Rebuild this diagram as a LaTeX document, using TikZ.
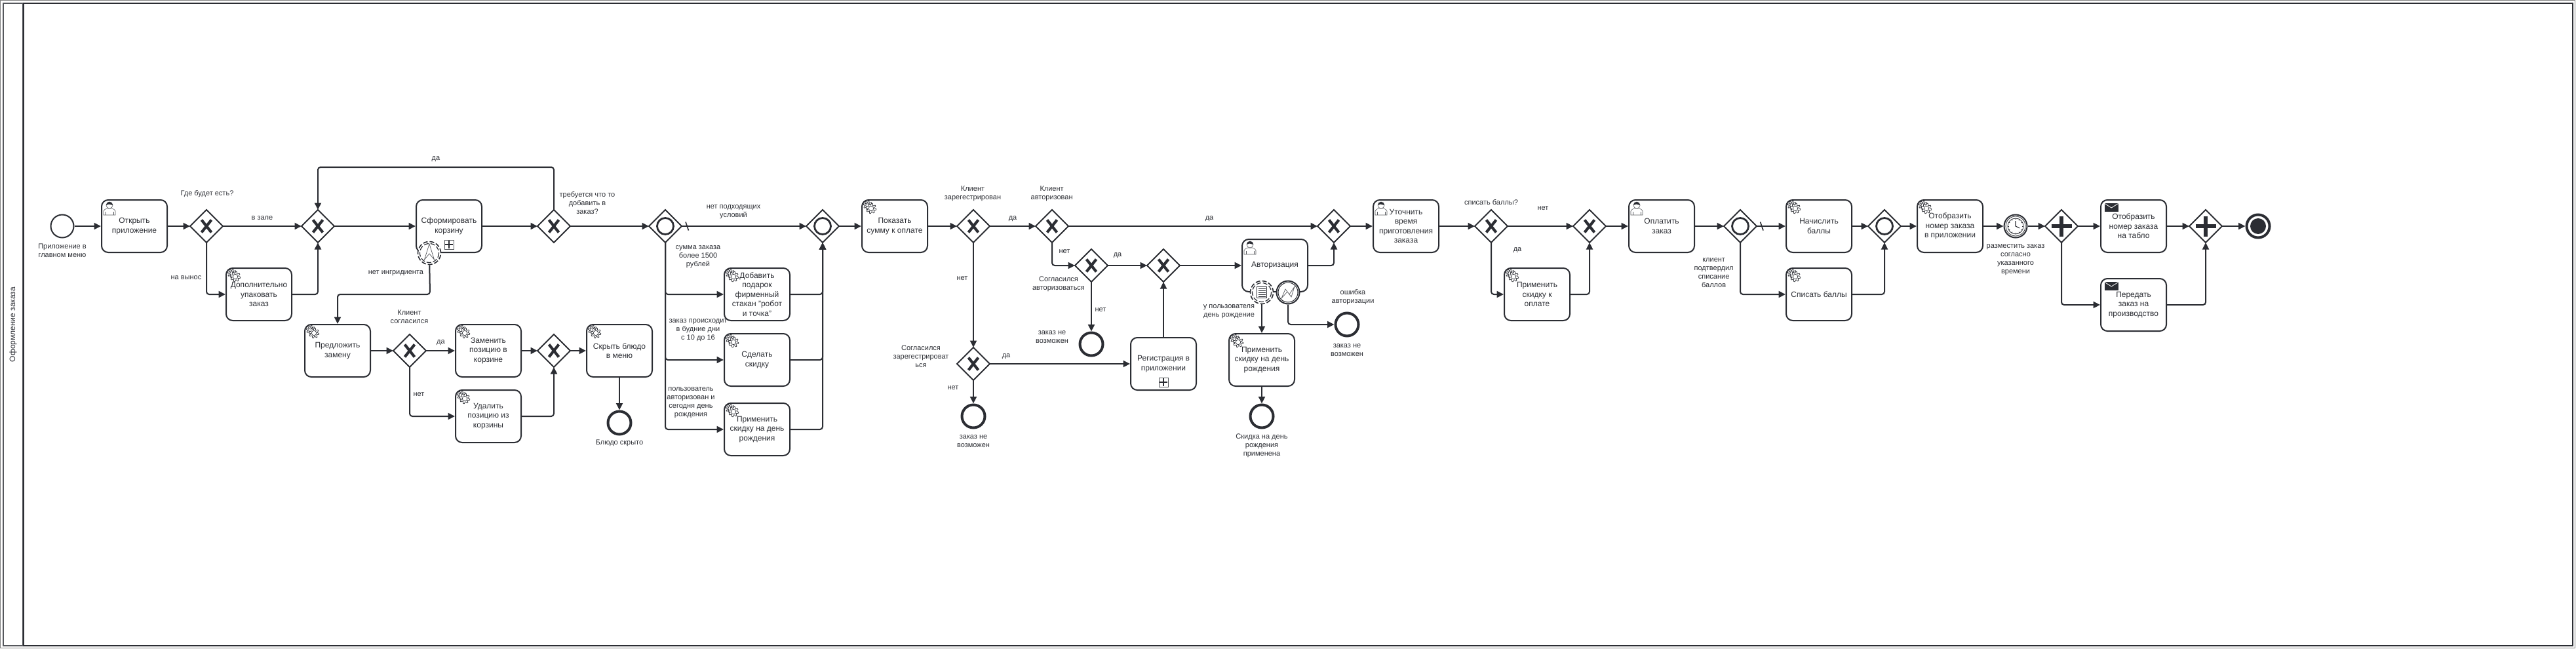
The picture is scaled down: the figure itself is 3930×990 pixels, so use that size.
\documentclass[tikz,border=0pt]{standalone}
\usepackage{fontspec}
\setmainfont{Liberation Sans}
\usetikzlibrary{arrows.meta,shapes.geometric,backgrounds}
\definecolor{inkcol}{HTML}{2B2D33}
\definecolor{framecol}{HTML}{808080}
\definecolor{titlecol}{HTML}{55575C}
\definecolor{iconcol}{HTML}{55575C}

\newcommand{\onegear}[3]{%
  \draw [fill=white] plot [domain=0:360, samples=65]
    ({#1+(#3-1+1.3*sign(sin(8*\x)))*cos(\x)}, {#2+(#3-1+1.3*sign(sin(8*\x)))*sin(\x)}) -- cycle;
  \draw (#1,#2) circle (0.5*#3);}
\newcommand{\gearicon}[1]{%
  \begin{scope}[shift={(#1.north west)}, draw=inkcol, line width=.7pt]
    \onegear{10}{9}{6.5}
    \onegear{15}{14}{7.5}
  \end{scope}}
\newcommand{\usericon}[1]{%
  \begin{scope}[shift={(#1.north west)}, draw=iconcol, line width=.6pt]
    \draw (4,24) -- (4,18) .. controls (4,16) and (7,15) .. (9,14) -- (17,14) .. controls (19,15) and (22,16) .. (22,18) -- (22,24) -- cycle;
    \draw (7,24) -- (7,19) (19,24) -- (19,19);
    \draw [fill=white] (13,9) circle (5);
    \fill [inkcol] (8,9) arc [start angle=180, end angle=360, radius=5] .. controls (10,7) and (14,7) .. cycle;
  \end{scope}}
\newcommand{\mailicon}[1]{%
  \begin{scope}[shift={(#1.north west)}]
    \fill [inkcol] (7,6) rectangle (27.5,19);
    \draw [white, line width=.8pt] (7,6.5) -- (17.2,13) -- (27.5,6.5);
  \end{scope}}
\newcommand{\plusicon}[1]{%
  \begin{scope}[shift={(#1.south)}]
    \draw [iconcol, line width=.8pt] (-7,-20) rectangle (7,-6);
    \draw [inkcol, line width=1.2pt] (0,-19) -- (0,-7) (-6,-13) -- (6,-13);
  \end{scope}}

\tikzset{
  inkline/.style={draw=inkcol, line width=2pt},
  flow/.style={->, inkline, rounded corners=4pt},
  tickline/.style={inkline, line width=1.6pt},
  lbl/.style={align=center, inner sep=0pt, text=inkcol, font=\fontsize{11}{13}\selectfont},
  task/.style={rectangle, inkline, rounded corners=10pt, minimum width=100pt, minimum height=80pt,
    inner sep=0pt, align=center, text=inkcol, font=\fontsize{12}{14.4}\selectfont},
  gateway/.style={diamond, aspect=1, inkline, minimum width=50pt, minimum height=50pt, inner sep=0pt, outer sep=0pt},
  xorgw/.style={gateway, path picture={
    \draw [inkcol, line width=4.2pt] (path picture bounding box.center) ++(-7.5,-9.5) -- ++(15,19);
    \draw [inkcol, line width=4.2pt] (path picture bounding box.center) ++(7.5,-9.5) -- ++(-15,19);}},
  orgw/.style={gateway, path picture={
    \draw [inkcol, line width=2.8pt] (path picture bounding box.center) circle (12.5);}},
  andgw/.style={gateway, path picture={
    \draw [inkcol, line width=5.5pt] (path picture bounding box.center) ++(-15.5,0) -- ++(31,0);
    \draw [inkcol, line width=5.5pt] (path picture bounding box.center) ++(0,-15.5) -- ++(0,31);}},
  startev/.style={circle, inkline, minimum size=35pt, inner sep=0pt},
  endev/.style={startev, line width=4pt},
  finalev/.style={endev, path picture={
    \fill [inkcol] (path picture bounding box.center) circle (12);}},
  timerev/.style={startev, path picture={
    \begin{scope}[shift={(path picture bounding box.center)}, draw=inkcol, line width=.8pt]
      \draw (0,0) circle (15);
      \draw (0,0) circle (12);
      \foreach \a in {0,30,...,330} \draw (\a:10) -- (\a:12);
      \draw [line width=1.1pt] (0,-8) -- (0,0) -- (6,3);
    \end{scope}}},
  dashev/.style={circle, draw=inkcol, fill=white, line width=1.6pt, dash pattern=on 7pt off 3pt, minimum size=35pt, inner sep=0pt},
  escev/.style={dashev, path picture={
    \begin{scope}[shift={(path picture bounding box.center)}, solid]
      \draw [inkcol, line width=1.2pt, dash pattern=on 7pt off 3pt] (0,0) circle (14.5);
      \draw [iconcol, line width=.7pt, solid] (0,-14) -- (-7.5,10) -- (0,1) -- (7.5,10) -- cycle;
    \end{scope}}},
  condev/.style={dashev, path picture={
    \begin{scope}[shift={(path picture bounding box.center)}, solid]
      \draw [inkcol, line width=1.2pt, dash pattern=on 7pt off 3pt] (0,0) circle (14.5);
      \draw [inkcol, line width=.8pt, solid] (-7.5,-9) rectangle (7.5,8);
      \foreach \r in {-6,-3,...,6} \draw [inkcol, line width=.7pt, solid] (-5.5,\r) -- (5.5,\r);
    \end{scope}}},
  errev/.style={startev, fill=white, path picture={
    \begin{scope}[shift={(path picture bounding box.center)}]
      \draw [inkcol, line width=1pt] (0,0) circle (15);
      \draw [iconcol, line width=.7pt] (-10,9) -- (-4,-5) -- (2,3) -- (10,-9) -- (5,7) -- (-1,-1) -- cycle;
    \end{scope}}}
}

\begin{document}
\begin{tikzpicture}[>={Triangle[length=10.5pt,width=10pt]}, x=1pt, y=-1pt]
    \useasboundingbox (0,0) rectangle (3930,990);
    \draw [framecol, line width=1.2pt] (0.6,0.6) rectangle (3928.5,988.6);
    \node (pool) [rectangle, inkline, minimum width=3920pt, minimum height=980pt] at (1965,495) {};
    \node (poolhead) [rectangle, draw=titlecol, line width=2pt, minimum width=30pt, minimum height=980pt] at (20,495) {};
    \draw [inkline] (poolhead.north east) -- (poolhead.south east);
    \node (pooltitle) [lbl, rotate=90, font=\fontsize{12}{14.4}\selectfont] at (20,495) {Оформление заказа};

    % Main row
    \node (evstart) [startev] at (95,345) {};
    \node (taskopen) [task, node distance=110pt, right of=evstart] {Открыть\\приложение};
    \node (gwwhere) [xorgw, node distance=110pt, right of=taskopen] {};
    \node (gwjoin) [xorgw, node distance=170pt, right of=gwwhere] {};
    \node (taskcart) [task, node distance=200pt, right of=gwjoin] {Сформировать\\корзину};
    \node (gwmore) [xorgw, node distance=160pt, right of=taskcart] {};
    \node (gwpromo) [orgw, node distance=170pt, right of=gwmore] {};
    \node (gwpromoend) [orgw, node distance=240pt, right of=gwpromo] {};
    \node (tasksum) [task, node distance=110pt, right of=gwpromoend] {Показать\\сумму к оплате};
    \node (gwreg) [xorgw, node distance=120pt, right of=tasksum] {};
    \node (gwauth) [xorgw, node distance=120pt, right of=gwreg] {};
    \node (gwready) [xorgw, node distance=430pt, right of=gwauth] {};
    \node (tasktime) [task, node distance=110pt, right of=gwready] {Уточнить\\время\\приготовления\\заказа};
    \node (gwpoints) [xorgw, node distance=130pt, right of=tasktime] {};
    \node (gwpointsend) [xorgw, node distance=150pt, right of=gwpoints] {};
    \node (taskpay) [task, node distance=110pt, right of=gwpointsend] {Оплатить\\заказ};
    \node (gwbonus) [orgw, node distance=120pt, right of=taskpay] {};
    \node (taskadd) [task, node distance=120pt, right of=gwbonus] {Начислить\\баллы};
    \node (gwbonusend) [orgw, node distance=100pt, right of=taskadd] {};
    \node (tasknum) [task, node distance=100pt, right of=gwbonusend] {Отобразить\\номер заказа\\в приложении};
    \node (evtimer) [timerev, node distance=100pt, right of=tasknum] {};
    \node (gwsplit) [andgw, node distance=70pt, right of=evtimer] {};
    \node (taskboard) [task, node distance=110pt, right of=gwsplit] {Отобразить\\номер заказа\\на табло};
    \node (gwmerge) [andgw, node distance=110pt, right of=taskboard] {};
    \node (evfinal) [finalev, node distance=80pt, right of=gwmerge] {};

    % Branches
    \node (taskpack) [task, node distance=104pt, below of=gwwhere, xshift=80pt] {Дополнительно\\упаковать\\заказ};
    \node (evnoitem) [escev, xshift=21pt] at (taskcart.south west) {};
    \coordinate (loopbend) at (845,255);
    \coordinate (itembend) at (656,449);
    \node (taskoffer) [task] at (515,535) {Предложить\\замену};
    \node (gwagree) [xorgw, node distance=110pt, right of=taskoffer] {};
    \node (taskswap) [task, node distance=120pt, right of=gwagree] {Заменить\\позицию в\\корзине};
    \node (taskdrop) [task, node distance=100pt, below of=taskswap] {Удалить\\позицию из\\корзины};
    \node (gwagreeend) [xorgw, node distance=100pt, right of=taskswap] {};
    \node (taskhide) [task, node distance=100pt, right of=gwagreeend] {Скрыть блюдо\\в меню};
    \node (endhidden) [endev, node distance=110pt, below of=taskhide] {};

    \node (taskgift) [task, node distance=104pt, below of=gwpromo, xshift=140pt] {Добавить\\подарок\\фирменный\\стакан "робот\\и точка"};
    \node (tasksale) [task, node distance=100pt, below of=taskgift] {Сделать\\скидку};
    \node (taskbday) [task, node distance=106pt, below of=tasksale] {Применить\\скидку на день\\рождения};

    \node (gwregyes) [xorgw, node distance=210pt, below of=gwreg] {};
    \node (endnoreg) [endev, node distance=80pt, below of=gwregyes] {};
    \node (gwauthyes) [xorgw, node distance=60pt, below of=gwauth, xshift=60pt] {};
    \node (endnoauth) [endev, node distance=120pt, below of=gwauthyes] {};
    \node (gwauthjoin) [xorgw, node distance=110pt, right of=gwauthyes] {};
    \node (taskreg) [task, node distance=150pt, below of=gwauthjoin] {Регистрация в\\приложении};
    \node (taskauth) [task, node distance=170pt, right of=gwauthjoin] {Авторизация};
    \node (evcond) [condev, xshift=31pt] at (taskauth.south west) {};
    \node (everror) [errev, xshift=71pt] at (taskauth.south west) {};
    \node (taskbdayauth) [task] at (1925,549) {Применить\\скидку на день\\рождения};
    \node (endbday) [endev, node distance=86pt, below of=taskbdayauth] {};
    \node (enderror) [endev] at (2055,495) {};

    \node (taskpointsale) [task, node distance=104pt, below of=gwpoints, xshift=70pt] {Применить\\скидку к\\оплате};
    \node (taskspend) [task, node distance=104pt, below of=taskadd] {Списать баллы};
    \node (taskkitchen) [task, node distance=120pt, below of=taskboard] {Передать\\заказ на\\производство};

    % Task icons
    \begin{pgfonlayer}{background}
    \foreach \t in {taskpack, taskoffer, taskswap, taskdrop, taskhide, taskgift, tasksale, taskbday, tasksum, taskbdayauth, taskpointsale, taskadd, taskspend, tasknum} {\gearicon{\t}}
    \foreach \t in {taskopen, taskauth, tasktime, taskpay} {\usericon{\t}}
    \foreach \t in {taskboard, taskkitchen} {\mailicon{\t}}
    \foreach \t in {taskcart, taskreg} {\plusicon{\t}}
    \end{pgfonlayer}

    % Labels
    \node (lblstart) [lbl] at (95,382.5) {Приложение в\\главном меню};
    \node (lblwhere) [lbl] at (316,296) {Где будет есть?};
    \node (lblhall) [lbl] at (400,333) {в зале};
    \node (lblaway) [lbl] at (284,424) {на вынос};
    \node (lblloop) [lbl] at (665,243) {да};
    \node (lblmore) [lbl] at (896,309.5) {требуется что то\\добавить в\\заказ?};
    \node (lblnoitem) [lbl] at (604,417) {нет ингридиента};
    \node (lblagree) [lbl] at (624.5,483.5) {Клиент\\согласился};
    \node (lblagreeyes) [lbl] at (672.5,523) {да};
    \node (lblagreeno) [lbl] at (639,602) {нет};
    \node (lblhidden) [lbl] at (945,676) {Блюдо скрыто};
    \node (lblnopromo) [lbl] at (1119,323.5) {нет подходящих\\условий};
    \node (lblsum) [lbl] at (1065,392) {сумма заказа\\более 1500\\рублей};
    \node (lblweek) [lbl] at (1065,504) {заказ происходит\\в будние дни\\с 10 до 16};
    \node (lblbirth) [lbl] at (1054,614) {пользователь\\авторизован и\\сегодня день\\рождения};
    \node (lblreg) [lbl] at (1484,295.5) {Клиент\\зарегестрирован};
    \node (lblregyes) [lbl] at (1545,334) {да};
    \node (lblregno) [lbl] at (1468,425) {нет};
    \node (lblsignup) [lbl] at (1405,543.5) {Согласился\\зарегестрироват\\ься};
    \node (lblsignupyes) [lbl] at (1535,544) {да};
    \node (lblsignupno) [lbl] at (1454,592) {нет};
    \node (lblnoreg) [lbl] at (1485,673) {заказ не\\возможен};
    \node (lblauth) [lbl] at (1604.6,295.5) {Клиент\\авторизован};
    \node (lblauthno) [lbl] at (1624,384) {нет};
    \node (lblauthyes) [lbl] at (1845,334) {да};
    \node (lblconsent) [lbl] at (1615,433.5) {Согласился\\авторизоваться};
    \node (lblconsentyes) [lbl] at (1705,390) {да};
    \node (lblconsentno) [lbl] at (1679,473) {нет};
    \node (lblnoauth) [lbl] at (1605,514) {заказ не\\возможен};
    \node (lblhasbday) [lbl] at (1875,475.5) {у пользователя\\день рождение};
    \node (lblbdaydone) [lbl] at (1925,679.5) {Скидка на день\\рождения\\применена};
    \node (lblerror) [lbl] at (2064,453.5) {ошибка\\авторизации};
    \node (lblerrorend) [lbl] at (2055,534) {заказ не\\возможен};
    \node (lblpoints) [lbl] at (2275,309) {списать баллы?};
    \node (lblpointsno) [lbl] at (2354,318) {нет};
    \node (lblpointsyes) [lbl] at (2315,382) {да};
    \node (lblconfirm) [lbl] at (2614.6,416.5) {клиент\\подтвердил\\списание\\баллов};
    \node (lbltimer) [lbl] at (3075,396.5) {разместить заказ\\согласно\\указанного\\времени};

    % Arrows
    \draw [flow] (evstart) -- (taskopen);
    \draw [flow] (taskopen) -- (gwwhere);
    \draw [flow] (gwwhere) -- (gwjoin);
    \draw [flow] (gwwhere) |- (taskpack);
    \draw [flow] (taskpack) -| (gwjoin);
    \draw [flow] (gwjoin) -- (taskcart);
    \draw [flow] (taskcart) -- (gwmore);
    \draw [flow] (gwmore) -- (loopbend) -| (gwjoin);
    \draw [flow] (gwmore) -- (gwpromo);
    \draw [flow] (evnoitem) -- (itembend) -| (taskoffer);
    \draw [flow] (taskoffer) -- (gwagree);
    \draw [flow] (gwagree) -- (taskswap);
    \draw [flow] (gwagree) |- (taskdrop);
    \draw [flow] (taskswap) -- (gwagreeend);
    \draw [flow] (taskdrop) -| (gwagreeend);
    \draw [flow] (gwagreeend) -- (taskhide);
    \draw [flow] (taskhide) -- (endhidden);
    \draw [flow] (gwpromo) -- (gwpromoend);
    \draw [tickline] (gwpromo.east) ++(6,-6.5) -- ++(4.5,13);
    \draw [flow] (gwpromo) |- (taskgift);
    \draw [flow] (gwpromo) |- (tasksale);
    \draw [flow] (gwpromo) |- (taskbday);
    \draw [flow] (taskgift) -| (gwpromoend);
    \draw [flow] (tasksale) -| (gwpromoend);
    \draw [flow] (taskbday) -| (gwpromoend);
    \draw [flow] (gwpromoend) -- (tasksum);
    \draw [flow] (tasksum) -- (gwreg);
    \draw [flow] (gwreg) -- (gwauth);
    \draw [flow] (gwreg) -- (gwregyes);
    \draw [flow] (gwregyes) -- (endnoreg);
    \draw [flow] (gwregyes) -- (taskreg);
    \draw [flow] (taskreg) -- (gwauthjoin);
    \draw [flow] (gwauth) -- (gwready);
    \draw [flow] (gwauth) |- (gwauthyes);
    \draw [flow] (gwauthyes) -- (gwauthjoin);
    \draw [flow] (gwauthyes) -- (endnoauth);
    \draw [flow] (gwauthjoin) -- (taskauth);
    \draw [flow] (taskauth) -| (gwready);
    \draw [flow] (evcond) -- (taskbdayauth);
    \draw [flow] (taskbdayauth) -- (endbday);
    \draw [flow] (everror) |- (enderror);
    \draw [flow] (gwready) -- (tasktime);
    \draw [flow] (tasktime) -- (gwpoints);
    \draw [flow] (gwpoints) -- (gwpointsend);
    \draw [flow] (gwpoints) |- (taskpointsale);
    \draw [flow] (taskpointsale) -| (gwpointsend);
    \draw [flow] (gwpointsend) -- (taskpay);
    \draw [flow] (taskpay) -- (gwbonus);
    \draw [flow] (gwbonus) -- (taskadd);
    \draw [tickline] (gwbonus.east) ++(5.5,-6.5) -- ++(4.5,13);
    \draw [flow] (gwbonus) |- (taskspend);
    \draw [flow] (taskadd) -- (gwbonusend);
    \draw [flow] (taskspend) -| (gwbonusend);
    \draw [flow] (gwbonusend) -- (tasknum);
    \draw [flow] (tasknum) -- (evtimer);
    \draw [flow] (evtimer) -- (gwsplit);
    \draw [flow] (gwsplit) -- (taskboard);
    \draw [flow] (gwsplit) |- (taskkitchen);
    \draw [flow] (taskboard) -- (gwmerge);
    \draw [flow] (taskkitchen) -| (gwmerge);
    \draw [flow] (gwmerge) -- (evfinal);
\end{tikzpicture}
\end{document}
